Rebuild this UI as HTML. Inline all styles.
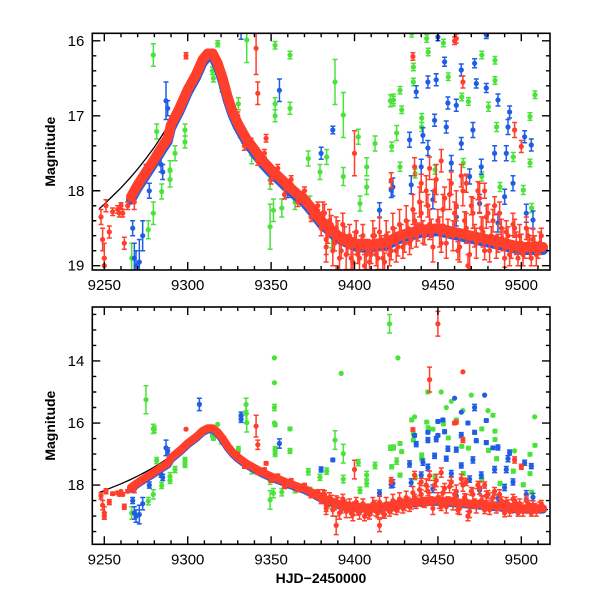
<!DOCTYPE html>
<html><head><meta charset="utf-8">
<style>
html,body{margin:0;padding:0;background:#fff;}
svg{display:block;}
text{font-family:"Liberation Sans",Arial,sans-serif;fill:#000;}
</style></head>
<body>
<svg id="chart" width="600" height="600" viewBox="0 0 600 600" xmlns="http://www.w3.org/2000/svg"></svg>
<script>
// ---------- DATA ----------
const xTicks = [9250, 9300, 9350, 9400, 9450, 9500];
const topYTicks = [16, 17, 18, 19];
const botYTicks = [14, 16, 18];

// model curve (black)
const modelT = [9247,9250,9255,9260,9265,9270,9275,9280,9285,9290,9295,9300,9305,9309,9312,9315,9318,9321,9324,9327,9330,9335,9340,9345,9350,9355,9360,9365,9370,9375,9380,9385,9390,9395,9400,9410,9420,9430,9440,9450,9460,9470,9480,9490,9500,9510,9516];
const modelM = [18.24,18.18,18.07,17.96,17.84,17.71,17.57,17.42,17.25,17.07,16.87,16.65,16.43,16.26,16.17,16.17,16.3,16.5,16.75,16.95,17.1,17.3,17.45,17.6,17.72,17.82,17.93,18.03,18.12,18.25,18.4,18.5,18.6,18.65,18.7,18.72,18.68,18.6,18.56,18.55,18.58,18.62,18.66,18.7,18.74,18.77,18.79];

// dense red band (centre of the well-sampled light curve)
const bandT = [9266,9270,9275,9280,9285,9288,9290,9295,9300,9305,9309,9312,9315,9318,9321,9324,9327,9330,9335,9340,9345,9350,9355,9360,9365,9370,9375,9380,9385,9390,9395,9400,9405,9410,9415,9420,9425,9430,9435,9440,9450,9460,9470,9480,9490,9500,9510,9513];
const bandM = [18.08,17.92,17.75,17.58,17.4,17.3,17.12,16.9,16.65,16.45,16.25,16.17,16.17,16.3,16.5,16.75,16.95,17.1,17.3,17.45,17.6,17.72,17.82,17.93,18.03,18.12,18.25,18.4,18.5,18.6,18.65,18.7,18.72,18.72,18.7,18.68,18.62,18.58,18.55,18.52,18.5,18.55,18.6,18.65,18.7,18.75,18.75,18.75];

// red scatter
const redT = [9248,9249,9250,9250,9251,9253,9255,9258,9259,9260,9262,9261,9264,9268,9272,9276,9299,9341,9342,9347,9330,9334,9338,9342,9346,9350,9354,9358,9362,9366,9370,9374,9378,9383,9389,9400,9401,9415,9460,9435,9461,9465,9496,9500,9436,9422,9445,9452,9440,9467,9478,
9380,9382,9384,9386,9388,9390,9392,9394,9396,9398,9400,9402,9404,9406,9408,9410,9412,9414,9416,9418,9420,9422,9424,9426,9428,9430,9432,9434,9436,9438,9440,9442,9444,9446,9448,9450,9452,9454,9456,9458,9460,9462,9464,9466,9468,9470,9472,9474,9476,9478,9480,9482,9484,9486,9488,9490,9492,9494,9496,9498,9500,9502,9504,9506,9508,9510,9512];
const redM = [18.35,18.65,18.9,19.0,18.2,18.55,18.28,18.25,18.3,18.2,18.7,18.3,18.2,18.15,17.85,17.7,16.2,16.1,16.7,17.3,17.0,17.4,17.35,17.6,17.5,17.85,17.7,18.05,17.85,18.15,18.0,18.35,18.2,18.75,19.3,17.5,18.7,19.3,16.0,16.21,15.97,16.55,17.19,17.41,17.68,17.86,17.7,17.6,17.9,17.9,18.0,
18.5,18.3,18.6,18.45,18.7,18.55,18.8,18.6,18.75,18.9,18.65,18.85,18.7,19.0,18.75,18.85,18.6,18.9,18.7,18.95,18.65,18.8,18.6,18.75,18.55,18.7,18.5,18.65,18.4,18.55,18.3,18.6,18.2,18.5,18.0,18.4,18.7,18.1,18.5,17.9,18.3,18.8,17.8,18.4,19.0,18.2,18.6,18.0,18.5,18.8,18.3,18.6,18.2,18.7,18.5,18.9,18.6,18.8,18.5,18.9,18.7,18.8,18.6,18.9,18.7,18.8,18.6];
const redE = [0.1,0.15,0.2,0.1,0.08,0.08,0.05,0.05,0.05,0.04,0.08,0.05,0.05,0.1,0.06,0.05,0.04,0.35,0.15,0.05,0.05,0.06,0.05,0.06,0.05,0.06,0.05,0.06,0.05,0.06,0.05,0.06,0.05,0.2,0.3,0.3,0.15,0.2,0.05,0.05,0.06,0.08,0.1,0.08,0.12,0.1,0.15,0.15,0.12,0.12,0.1,
0.1,0.12,0.1,0.12,0.1,0.15,0.1,0.12,0.1,0.15,0.1,0.12,0.1,0.15,0.1,0.12,0.1,0.15,0.1,0.12,0.1,0.12,0.1,0.12,0.1,0.12,0.1,0.12,0.1,0.12,0.15,0.12,0.15,0.12,0.15,0.15,0.12,0.15,0.12,0.15,0.15,0.12,0.15,0.12,0.15,0.12,0.15,0.12,0.15,0.12,0.12,0.12,0.12,0.12,0.12,0.12,0.12,0.1,0.12,0.1,0.12,0.1,0.1,0.1,0.1,0.1,0.1];

// second dense red set (late-time scatter)
const red2T = [9381,9383,9385,9387,9389,9391,9393,9395,9397,9399,9401,9403,9405,9407,9409,9411,9413,9415,9417,9419,9421,9423,9425,9427,9429,9431,9433,9435,9437,9439,9441,9443,9445,9447,9449,9451,9453,9455,9457,9459,9461,9463,9465,9467,9469,9471,9473,9475,9477,9479,9481,9483,9485,9487,9489,9491,9493,9495,9497,9499,9501,9503,9505,9507,9509,9511];
const red2M = [18.3,18.65,18.4,18.8,18.5,18.9,18.45,18.85,18.6,18.95,18.55,18.9,18.6,18.85,18.95,18.6,18.85,18.55,18.9,18.6,18.85,18.5,18.8,18.45,18.75,18.4,18.7,18.25,18.6,18.15,18.55,18.0,18.45,18.75,17.85,18.55,18.25,18.7,18.05,18.6,18.2,18.75,18.0,18.5,18.85,18.3,18.7,18.1,18.55,18.35,18.8,18.4,18.75,18.3,18.65,18.55,18.85,18.45,18.7,18.6,18.85,18.5,18.75,18.65,18.85,18.7];
const red2E = [0.15,0.2,0.15,0.2,0.15,0.2,0.15,0.2,0.15,0.2,0.15,0.2,0.15,0.2,0.15,0.2,0.15,0.2,0.15,0.2,0.15,0.2,0.15,0.2,0.15,0.2,0.15,0.2,0.15,0.2,0.15,0.2,0.2,0.2,0.2,0.2,0.2,0.2,0.2,0.2,0.2,0.2,0.2,0.2,0.2,0.2,0.2,0.2,0.2,0.15,0.15,0.15,0.15,0.15,0.15,0.15,0.15,0.15,0.15,0.15,0.15,0.15,0.15,0.15,0.15,0.15];

// blue scatter
const blueT = [9287,9288,9267,9268,9269,9271,9273,9275,9277,9284,9285,9355,9387,9380,9360,9422,9415,9332,
9450,9479,9454,9472,9464,9444,9449,9473,9479,9486,9437,9456,9461,9493,9492,9448,9441,9455,9502,9433,9444,9464,9471,9484,9506,9491,9440,9458,9476,9434,9495,9469,9503,9507,9490,9475,9423,9461,9486,9447];
const blueM = [16.8,16.9,18.5,18.9,19.0,18.95,18.6,17.7,18.0,17.65,17.75,16.66,17.19,17.5,17.99,17.99,18.26,15.88,
15.95,15.92,16.28,16.3,16.39,16.55,16.52,16.57,16.63,16.79,16.68,16.83,16.86,16.95,17.15,17.06,17.26,17.15,17.28,17.32,17.43,17.37,17.19,17.5,17.39,17.5,17.68,17.63,17.68,17.92,17.9,17.81,18.3,18.39,18.08,18.17,17.95,18.35,18.43,18.12];
const blueE = [0.25,0.1,0.1,0.2,0.2,0.3,0.2,0.05,0.1,0.1,0.1,0.15,0.05,0.08,0.1,0.1,0.1,0.1,
0.05,0.05,0.06,0.06,0.08,0.08,0.08,0.06,0.06,0.08,0.08,0.08,0.08,0.08,0.1,0.08,0.1,0.08,0.08,0.1,0.1,0.08,0.1,0.1,0.08,0.1,0.1,0.1,0.1,0.12,0.1,0.1,0.12,0.12,0.1,0.12,0.12,0.12,0.12,0.12];

// green scatter
const greenT = [9279.4,9281.4,9298.4,9298.4,9292.4,9289.4,9289.4,9284.4,9279.4,9276.4,9266.4,9315.4,9320.4,9314.8,9325.4,9330.3,9318,
9335.4,9352.4,9361.3,9361.3,9352.4,9352.4,9388.3,9393.3,9402.3,9331.4,9338.4,9349.4,9349.4,9351.4,9356.4,9364.3,9373.3,9372.3,9383.3,9379.3,9393.3,9407.3,9407.3,9412.3,9423.3,9421.5,9425.3,9386.3,9403.3,9329.4,9330.4,
9434.3,9443.3,9444.2,9453.3,9435.3,9435.3,9427.3,9423.3,9428.3,9440.3,9440.3,9456.2,9464.3,9468.3,9476.3,9484.2,9484.2,9480.3,9485.2,9508.2,9505.2,9505.2,9422.3,9427.3,9436.3,9448.3,9465.2,9495.2,9501.2,9506.2,9476.3,9487.2];
const greenM = [16.19,17.21,17.19,17.35,17.5,17.72,17.85,18.01,18.3,18.52,18.9,16.5,16.63,16.4,16.79,17.15,16.04,
15.99,16.06,16.19,16.9,16.84,17.0,16.55,16.99,17.28,17.19,17.52,17.86,18.48,18.26,18.23,18.15,18.17,17.57,17.55,17.75,17.81,17.68,17.95,17.37,16.79,16.8,17.23,18.61,18.17,17.06,16.84,
15.9,15.97,16.15,16.03,16.35,16.55,16.66,16.79,16.92,17.03,17.15,16.48,16.75,16.81,16.19,16.26,16.53,16.88,17.15,16.72,17.01,17.63,17.41,17.68,17.77,17.72,17.63,17.55,17.99,18.23,17.81,17.95];
const greenE = [0.15,0.1,0.08,0.08,0.1,0.12,0.1,0.1,0.15,0.12,0.2,0.05,0.05,0.05,0.05,0.08,0.04,
0.3,0.05,0.05,0.08,0.08,0.08,0.3,0.3,0.1,0.1,0.12,0.12,0.3,0.15,0.12,0.1,0.1,0.1,0.1,0.1,0.12,0.12,0.1,0.1,0.08,0.08,0.1,0.15,0.1,0.08,0.08,
0.05,0.05,0.05,0.05,0.05,0.05,0.05,0.05,0.05,0.06,0.06,0.05,0.05,0.05,0.05,0.05,0.05,0.06,0.06,0.05,0.05,0.05,0.06,0.06,0.06,0.06,0.06,0.06,0.06,0.06,0.06,0.06];

// extra points only visible in the lower panel (bright outliers)
const extraGreenT = [9275,9280,9352,9352,9352,9352,9335,9335,9392,9421,9426,9444,9452,9470,9465,9458,9455,9480,9508,9496,9436,9447,9461,9483];
const extraGreenM = [15.25,16.2,13.9,14.7,15.5,16.0,15.4,15.7,14.4,12.8,13.9,15.0,15.0,15.1,15.6,15.3,15.5,15.6,15.8,16.9,15.8,16.2,15.9,15.75];
const extraGreenE = [0.45,0.1,0,0,0.1,0,0.2,0.3,0,0.3,0,0.05,0,0,0,0,0,0,0,0,0,0.05,0.05,0.05];
const extraBlueT = [9307,9332,9460,9478,9464,9472,9453,9444,9436,9450,9483,9468];
const extraBlueM = [15.4,15.75,15.2,15.1,15.65,15.5,15.9,16.3,16.4,16.4,16.8,16.0];
const extraBlueE = [0.2,0.1,0,0,0,0.1,0.05,0.05,0.05,0.05,0.05,0.05];
const extraRedT = [9445,9450,9465];
const extraRedM = [14.6,12.8,14.35];
const extraRedE = [0.4,0.4,0];

// ---------- RENDER ----------
const NS = "http://www.w3.org/2000/svg";
const svg = document.getElementById("chart");
const RED = "#ff3e2c", BLUE = "#1f5ee4", GREEN = "#4ce23c";
const X0 = 92.3, X1 = 550;
const tMin = 9242.8, tMax = 9517.2;
function xScale(t) { return X0 + (t - tMin) / (tMax - tMin) * (X1 - X0); }

function mk(tag, attrs, parent) {
  const el = document.createElementNS(NS, tag);
  for (const k in attrs) el.setAttribute(k, attrs[k]);
  (parent || svg).appendChild(el);
  return el;
}

function drawPanel(p) {
  const yScale = m => p.y0 + (m - p.mMin) / (p.mMax - p.mMin) * (p.y1 - p.y0);
  const g = mk("g", {});
  
  
  const clip = mk("clipPath", { id: p.name + "-clip" });
  mk("rect", { x: X0, y: p.y0, width: X1 - X0, height: p.y1 - p.y0 }, clip);
  const plot = mk("g", { "clip-path": "url(#" + p.name + "-clip)" }, g);
  
  

  function band(ts, ms, color, w, off, nm) {
    let d = "";
    for (let i = 0; i < ts.length; i++) d += (i ? "L" : "M") + xScale(ts[i]).toFixed(1) + " " + yScale(ms[i] + off).toFixed(1);
    const el = mk("path", { d: d, fill: "none", stroke: color, "stroke-width": w, "stroke-linejoin": "round", "stroke-linecap": "round" }, plot);
    
    
  }
  function scatter(ts, ms, es, color, nm) {
    const sg = mk("g", { stroke: color, fill: color, "stroke-width": 1.5 }, plot);
    
    
    for (let i = 0; i < ts.length; i++) {
      const x = xScale(ts[i]), y = yScale(ms[i]);
      const ya = yScale(ms[i] - es[i]), yb = yScale(ms[i] + es[i]);
      if (yb - ya > 3) {
        const eb = mk("path", { d: `M${x} ${ya}V${yb}M${x-2.5} ${ya}h5M${x-2.5} ${yb}h5`, fill: "none" }, sg);
        
        
      }
      const c = mk("circle", { cx: x.toFixed(1), cy: y.toFixed(1), r: 2.6, stroke: "none" }, sg);
      
      
    }
  }
  // model curve (underneath the data)
  let d = "";
  for (let i = 0; i < modelT.length; i++) d += (i ? "L" : "M") + xScale(modelT[i]).toFixed(1) + " " + yScale(modelM[i]).toFixed(1);
  const mc = mk("path", { d: d, fill: "none", stroke: "#000", "stroke-width": 1.3 }, plot);
  
  

  scatter(greenT, greenM, greenE, GREEN, "green-series");
  if (p.extra) scatter(extraGreenT, extraGreenM, extraGreenE, GREEN, "green-outliers");
  band(bandT, bandM, BLUE, p.bandW, 0.04, "blue-band");
  scatter(blueT, blueM, blueE, BLUE, "blue-series");
  if (p.extra) scatter(extraBlueT, extraBlueM, extraBlueE, BLUE, "blue-outliers");
  band(bandT, bandM, RED, p.bandW, 0, "red-band");
  scatter(redT, redM, redE, RED, "red-series");
  scatter(red2T, red2M, red2E, RED, "red-late-series");
  if (p.extra) scatter(extraRedT, extraRedM, extraRedE, RED, "red-outliers");

  const fr = mk("rect", { x: X0, y: p.y0, width: X1 - X0, height: p.y1 - p.y0, fill: "none", stroke: "#000", "stroke-width": 1.6 }, g);
  
  
  let td = "";
  for (let t = 9250; t <= 9510; t += 10) {
    const x = xScale(t), L = (t % 50 === 0) ? 8 : 4;
    td += `M${x} ${p.y1}v${-L}M${x} ${p.y0}v${L}`;
  }
  for (let m = Math.ceil(p.mMin / p.minor) * p.minor; m <= p.mMax + 1e-9; m += p.minor) {
    const mm = Math.round(m * 100) / 100;
    const y = yScale(mm);
    const major = Math.abs(mm / p.major - Math.round(mm / p.major)) < 1e-6;
    const L = major ? 8 : 4;
    td += `M${X0} ${y}h${L}M${X1} ${y}h${-L}`;
  }
  const tk = mk("path", { d: td, stroke: "#000", "stroke-width": 1.4, fill: "none" }, g);
  
  
  xTicks.forEach(t => {
    const tx = mk("text", { x: xScale(t), y: p.y1 + 20, "text-anchor": "middle", "font-size": 15 }, g);
    tx.textContent = t;
    
    
  });
  p.yTicks.forEach(m => {
    const ty = mk("text", { x: X0 - 8, y: yScale(m) + 5, "text-anchor": "end", "font-size": 15 }, g);
    ty.textContent = m;
    
    
  });
  const yl = mk("text", { x: 0, y: 0, "text-anchor": "middle", "font-size": 14, "font-weight": "bold", transform: `translate(55,${(p.y0 + p.y1) / 2}) rotate(-90)` }, g);
  yl.textContent = "Magnitude";
  
  
}

drawPanel({ name: "top-panel", y0: 33.3, y1: 270, mMin: 15.90, mMax: 19.057, minor: 0.2, major: 1, yTicks: topYTicks, bandW: 10, extra: false });
drawPanel({ name: "bottom-panel", y0: 307, y1: 544.3, mMin: 12.26, mMax: 19.91, minor: 0.5, major: 2, yTicks: botYTicks, bandW: 8, extra: true });

const xl = mk("text", { x: 321, y: 583, "text-anchor": "middle", "font-size": 14, "font-weight": "bold" });
xl.textContent = "HJD\u22122450000";


</script>
</body></html>
